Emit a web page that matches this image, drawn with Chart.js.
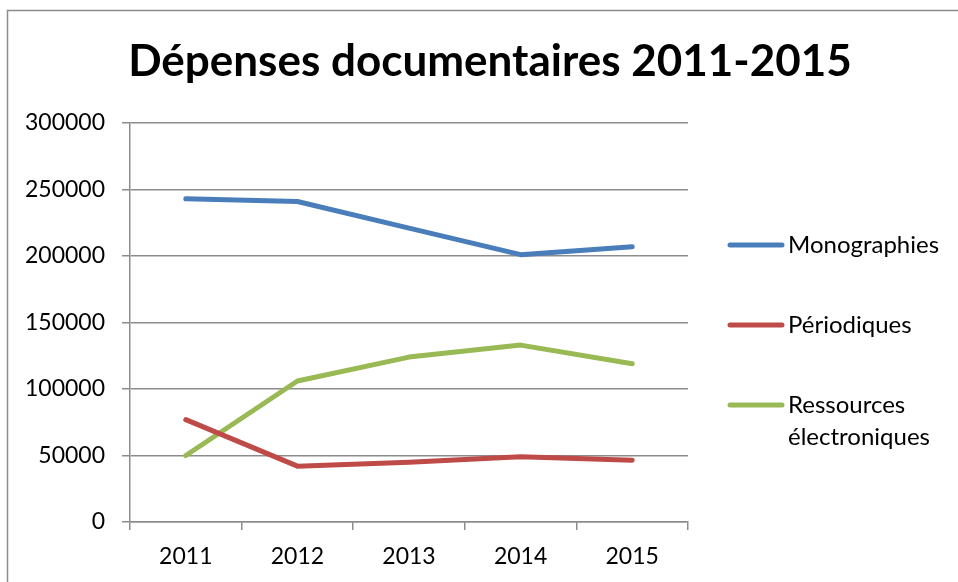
<!DOCTYPE html>
<html>
<head>
<meta charset="utf-8">
<script src="https://cdn.jsdelivr.net/npm/chart.js"></script>
<style>
  html, body { margin: 0; padding: 0; background: #fff; }
  #wrap { width: 958px; height: 582px; }
</style>
</head>
<body>
<div id="wrap"><canvas id="chart" width="958" height="582"></canvas></div>
<script>
let years = ["2011", "2012", "2013", "2014", "2015"];
let monographies = [243000, 241000, 221000, 201000, 207000];
let periodiques = [77000, 42000, 45000, 49000, 46500];
let ressources = [50000, 106000, 124000, 133000, 119000];
let yTicks = [0, 50000, 100000, 150000, 200000, 250000, 300000];

let titleText = "Dépenses documentaires 2011-2015";
let gridColor = "#8c8c8c";

// frame, title and legend drawn by hand (legend wraps on two lines)
let decor = {
  id: "decor",
  beforeDraw(chart) {
    let ctx = chart.ctx;
    ctx.save();
    ctx.fillStyle = "#fff";
    ctx.fillRect(0, 0, chart.width, chart.height);
    ctx.strokeStyle = "#8c8c8c";
    ctx.lineWidth = 1.5;
    ctx.strokeRect(7.5, 10.5, 1000, 700);
    ctx.restore();
  },
  afterDraw(chart) {
    let ctx = chart.ctx;
    ctx.save();
    ctx.fillStyle = "#000";
    ctx.font = "bold 44px Lato";
    ctx.textAlign = "center";
    ctx.textBaseline = "middle";
    ctx.fillText(titleText, 490, 62);

    let rows = [[245], [325], [405, 437]];
    let names = [["Monographies"], ["Périodiques"], ["Ressources", "électroniques"]];
    ctx.font = "24px Lato";
    ctx.textAlign = "left";
    chart.data.datasets.forEach((ds, i) => {
      ctx.strokeStyle = ds.borderColor;
      ctx.lineWidth = 5;
      ctx.lineCap = "round";
      ctx.beginPath();
      ctx.moveTo(730, rows[i][0]);
      ctx.lineTo(782, rows[i][0]);
      ctx.stroke();
      names[i].forEach((t, j) => {
        ctx.fillText(t, 788, rows[i][j]);
      });
    });
    ctx.restore();
  }
};

new Chart(document.getElementById("chart").getContext("2d"), {
  type: "line",
  data: {
    labels: years,
    datasets: [{
        label: "Monographies",
        data: monographies,
        borderColor: "#4a7ebb"
      },
      {
        label: "Périodiques",
        data: periodiques,
        borderColor: "#be4b48"
      },
      {
        label: "Ressources électroniques",
        data: ressources,
        borderColor: "#98b954"
      }
    ]
  },
  options: {
    responsive: false,
    animation: false,
    layout: {
      padding: { top: 123, right: 270, bottom: 0, left: 0 }
    },
    elements: {
      point: { radius: 0 },
      line: { borderWidth: 5, borderCapStyle: "round", borderJoinStyle: "round", tension: 0 }
    },
    plugins: {
      legend: { display: false },
      title: { display: false },
      tooltip: { enabled: false }
    },
    scales: {
      x: {
        offset: true,
        afterFit: (scale) => { scale.height = 60; },
        grid: {
          offset: true,
          drawOnChartArea: false,
          drawTicks: true,
          tickLength: 8,
          color: gridColor,
          lineWidth: 1.5
        },
        border: { color: gridColor, width: 1.5 },
        ticks: {
          color: "#000",
          padding: 13,
          font: { family: "Lato", size: 23 }
        }
      },
      y: {
        min: 0,
        max: 300000,
        afterFit: (scale) => { scale.width = 130; },
        afterBuildTicks: (scale) => {
          scale.ticks = yTicks.map(v => ({ value: v }));
        },
        grid: {
          color: gridColor,
          lineWidth: 1.5,
          drawTicks: true,
          tickLength: 8
        },
        border: { color: gridColor, width: 1.5 },
        ticks: {
          color: "#000",
          padding: 17,
          font: { family: "Lato", size: 23 },
          callback: (v) => String(v)
        }
      }
    }
  },
  plugins: [decor]
});
</script>
</body>
</html>
